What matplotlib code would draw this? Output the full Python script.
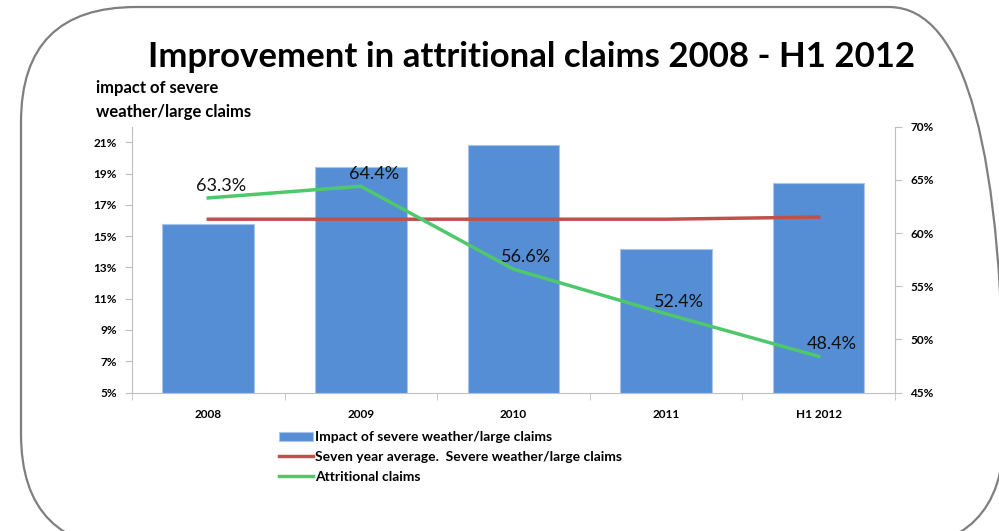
import numpy as np
import matplotlib.pyplot as plt
from matplotlib.patches import FancyBboxPatch
from matplotlib.transforms import IdentityTransform
from matplotlib.ticker import FuncFormatter

plt.rcParams['font.family'] = ['Lato', 'DejaVu Sans']

categories = ['2008', '2009', '2010', '2011', 'H1 2012']
severe_impact = [15.8, 19.4, 20.8, 14.2, 18.4]
seven_year_avg = [61.3, 61.3, 61.3, 61.3, 61.5]
attritional = [63.3, 64.4, 56.6, 52.4, 48.4]

bar_col = '#558ED5'
red_col = '#C0504D'
green_col = '#4EC86A'
axis_col = '#BFBFBF'

fig = plt.figure(figsize=(9.99, 5.31), dpi=100)

# rounded frame round the whole slide, in pixels so the corners stay round
r = 115
left, right, bottom, top = 21, 1004, -18, 524
frame = FancyBboxPatch((left + r, bottom + r), right - left - 2 * r, top - bottom - 2 * r,
                       boxstyle=f'round,pad={r},rounding_size={r}',
                       transform=IdentityTransform(), fill=False,
                       edgecolor='#7F7F7F', linewidth=1.6, clip_on=False)
fig.patches.append(frame)

ax = fig.add_axes([0.1321, 0.2608, 0.7638, 0.5006])
x = np.arange(len(categories))
bars = ax.bar(x, [v - 5 for v in severe_impact], bottom=5, width=0.6, color=bar_col,
              edgecolor='#A9C4EB', linewidth=0.8,
              label='Impact of severe weather/large claims', zorder=2)
ax.set_xlim(-0.5, len(categories) - 0.5)
ax.set_ylim(5, 22)
ax.set_yticks(np.arange(5, 22, 2))
ax.yaxis.set_major_formatter(FuncFormatter(lambda v, p: f'{v:.0f}%'))
ax.set_xticks(x)
ax.set_xticklabels(categories)
ax.set_xticks(np.arange(-0.5, len(categories)), minor=True)
ax.tick_params(axis='x', which='major', length=0, pad=12)
ax.tick_params(axis='x', which='minor', length=5, color=axis_col)
ax.tick_params(axis='y', length=5, color=axis_col, pad=6)
for lab in ax.get_xticklabels() + ax.get_yticklabels():
    lab.set_fontsize(8.5)
    lab.set_fontweight('bold')

for side in ['top', 'right']:
    ax.spines[side].set_visible(False)
for side in ['left', 'bottom']:
    ax.spines[side].set_color(axis_col)

ax2 = ax.twinx()
ax2.set_ylim(45, 70)
ax2.set_yticks(np.arange(45, 71, 5))
ax2.yaxis.set_major_formatter(FuncFormatter(lambda v, p: f'{v:.0f}%'))
ax2.tick_params(axis='y', length=5, color=axis_col, pad=6)
for lab in ax2.get_yticklabels():
    lab.set_fontsize(8.5)
    lab.set_fontweight('bold')
for side in ['top', 'left', 'bottom']:
    ax2.spines[side].set_visible(False)
ax2.spines['right'].set_color(axis_col)

l1, = ax2.plot(x, seven_year_avg, color=red_col, linewidth=2.5,
               label='Seven year average.  Severe weather/large claims')
l2, = ax2.plot(x, attritional, color=green_col, linewidth=2.5,
               label='Attritional claims')
for xi, v in zip(x, attritional):
    ax2.annotate(f'{v:.1f}%', (xi, v), xytext=(13, 12), textcoords='offset pixels',
                 ha='center', va='center', fontsize=13, color='#111111')

handles = [bars, l1, l2]
labels = [bars.get_label(), l1.get_label(), l2.get_label()]
leg = fig.legend(handles, labels,
                 loc='upper left', bbox_to_anchor=(0.274, 0.198), frameon=False,
                 prop={'size': 10, 'weight': 'bold'}, handlelength=2.4,
                 handleheight=0.6, handletextpad=0.15, labelspacing=0.55,
                 borderaxespad=0)

fig.text(0.532, 0.893, 'Improvement in attritional claims 2008 - H1 2012',
         ha='center', va='center', fontsize=25, fontweight='bold')
fig.text(0.096, 0.834, 'impact of severe', ha='left', va='center',
         fontsize=12, fontweight='bold')
fig.text(0.096, 0.789, 'weather/large claims', ha='left', va='center',
         fontsize=12, fontweight='bold')

fig.savefig('out.png', dpi=100)
